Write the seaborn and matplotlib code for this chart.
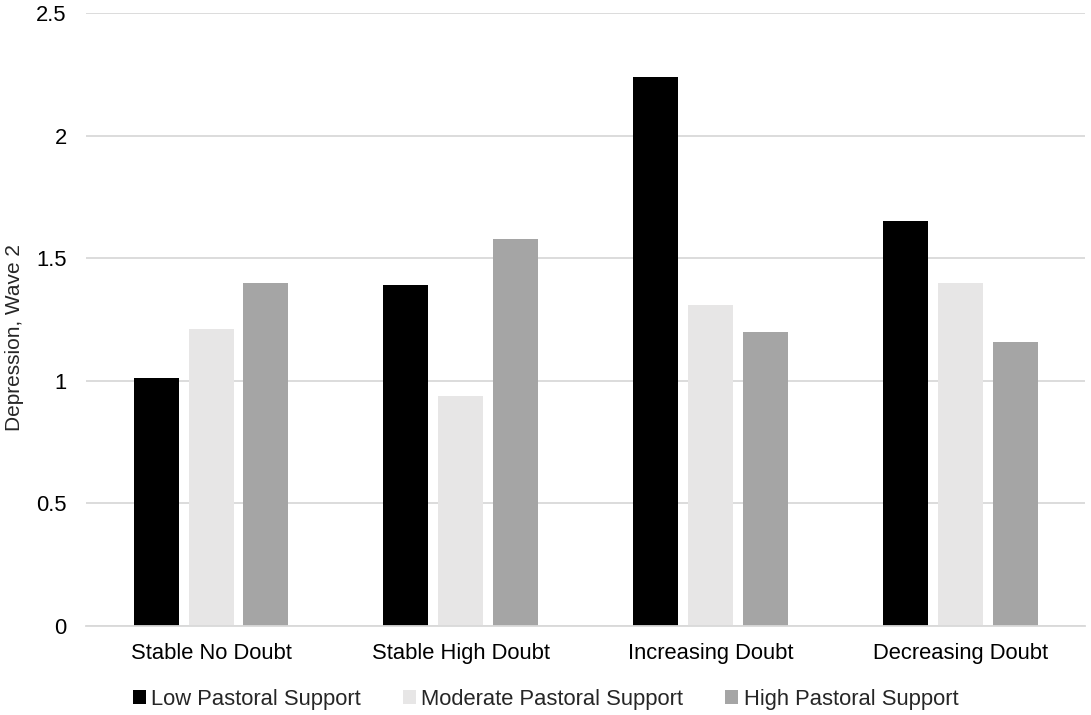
import pandas as pd
import matplotlib
matplotlib.use('Agg')
import matplotlib.pyplot as plt
import seaborn as sns

categories = ['Stable No Doubt', 'Stable High Doubt', 'Increasing Doubt', 'Decreasing Doubt']
groups = ['Low Pastoral Support', 'Moderate Pastoral Support', 'High Pastoral Support']
low = [1.01, 1.39, 2.24, 1.65]
moderate = [1.21, 0.94, 1.31, 1.40]
high = [1.40, 1.58, 1.20, 1.16]
colors = ['#000000', '#E7E6E6', '#A5A5A5']

rows = []
for g, vals in zip(groups, [low, moderate, high]):
    for c, v in zip(categories, vals):
        rows.append({'Trajectory': c, 'Support': g, 'Depression': v})
df = pd.DataFrame(rows)

sns.set_style('white')
plt.rcParams['font.family'] = ['Liberation Sans', 'DejaVu Sans']

fig = plt.figure(figsize=(10.91, 7.15), dpi=100)
ax = fig.add_axes([0.079, 0.1245, 0.9155, 0.8573])

sns.barplot(data=df, x='Trajectory', y='Depression', hue='Support',
            palette=colors, width=0.66, gap=0.18, ax=ax,
            edgecolor='none', linewidth=0, legend=True)

ax.set_ylim(0, 2.5)
ax.set_yticks([0, 0.5, 1, 1.5, 2, 2.5])
ax.set_yticklabels(['0', '0.5', '1', '1.5', '2', '2.5'])
ax.set_xlim(-0.5, 3.5)
ax.yaxis.grid(True, color='#D9D9D9', linewidth=1.3)
ax.set_axisbelow(True)
for s in ['top', 'right', 'left']:
    ax.spines[s].set_visible(False)
ax.spines['bottom'].set_color('#D9D9D9')
ax.spines['bottom'].set_linewidth(1.3)
ax.tick_params(axis='x', length=0, labelsize=15.8, colors='#000000', pad=12)
ax.tick_params(axis='y', length=0, labelsize=15.8, colors='#000000', pad=14)
ax.set_xlabel('')
ax.set_ylabel('Depression, Wave 2', fontsize=15)
ax.yaxis.set_label_coords(-0.062, 0.471)

handles, labels = ax.get_legend_handles_labels()
ax.get_legend().remove()
fig.legend(handles, labels, loc='center', bbox_to_anchor=(0.5, 0.022),
           ncol=3, frameon=False, fontsize=15.8, handlelength=0.6,
           handleheight=0.6, handletextpad=0.25, columnspacing=1.9)

fig.savefig('out.png', dpi=100)
